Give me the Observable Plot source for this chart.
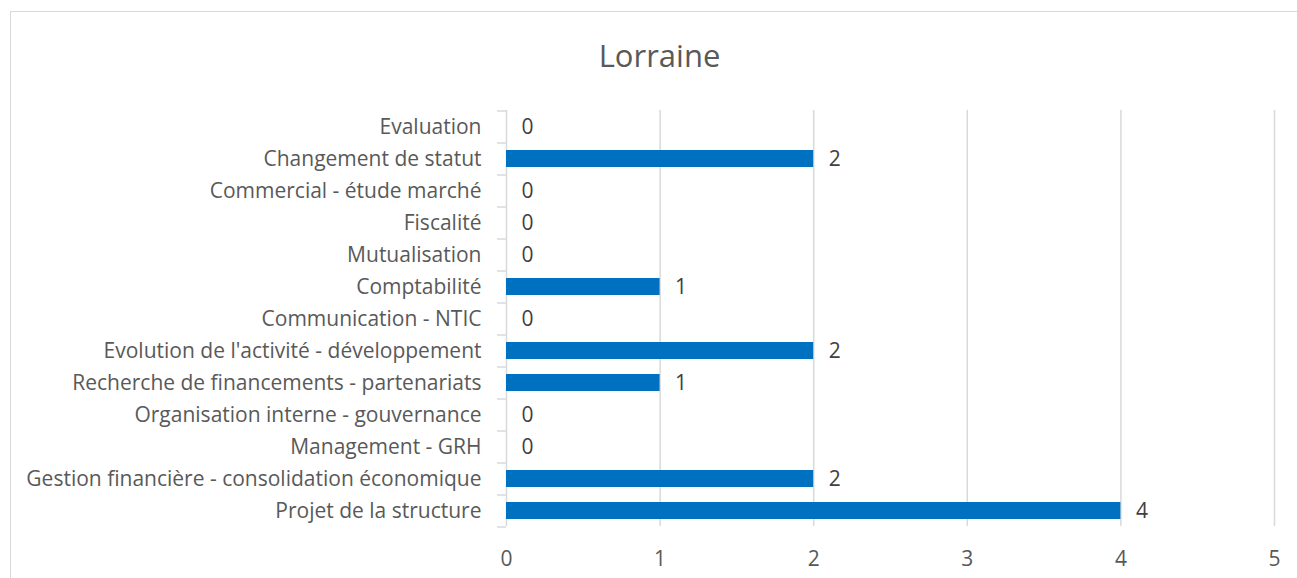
<!DOCTYPE html>
<html>
<head>
<meta charset="utf-8">
<script src="https://cdn.jsdelivr.net/npm/d3@7"></script>
<script src="https://cdn.jsdelivr.net/npm/@observablehq/plot@0.6"></script>
<style>
  html, body { margin: 0; padding: 0; background: #fff; }
  body { width: 1297px; height: 578px; overflow: hidden; position: relative; font-family: "Open Sans", sans-serif; }
  #frame { position: absolute; left: 10px; top: 11px; width: 1300px; height: 600px; border: 1px solid #d9d9d9; box-sizing: border-box; pointer-events: none; }
  #title { height: 90px; padding-left: 22px; padding-top: 20px; text-align: center; font-size: 31px; color: #595959; line-height: 70px; box-sizing: border-box; }
  svg { display: block; }
</style>
</head>
<body>
<div id="frame"></div>
<div id="title">Lorraine</div>
<div id="chart"></div>
<script>
const categories = [
  "Evaluation",
  "Changement de statut",
  "Commercial - étude marché",
  "Fiscalité",
  "Mutualisation",
  "Comptabilité",
  "Communication - NTIC",
  "Evolution de l'activité - développement",
  "Recherche de financements - partenariats",
  "Organisation interne - gouvernance",
  "Management - GRH",
  "Gestion financière - consolidation économique",
  "Projet de la structure"
];
const values = [0, 2, 0, 0, 0, 1, 0, 2, 1, 0, 0, 2, 4];
const xTicks = [0, 1, 2, 3, 4, 5];

const data = categories.map((c, i) => ({category: c, value: values[i]}));

const grey = "#d9d9d9";
const textColor = "#595959";

const chart = Plot.plot({
  width: 1297,
  height: 488,
  marginTop: 20,
  marginBottom: 52,
  marginLeft: 506,
  marginRight: 23,
  style: { fontFamily: "Open Sans, sans-serif", fontSize: "21px", color: textColor, background: "transparent" },
  x: { domain: [0, 5], ticks: xTicks, tickFormat: d => String(d), label: null },
  y: { domain: categories, label: null, paddingInner: 0.47, paddingOuter: 0.235 },
  marks: [
    Plot.gridX(xTicks.slice(1), { stroke: grey, strokeOpacity: 1, strokeWidth: 1.5 }),
    Plot.ruleX([0], { stroke: grey, strokeWidth: 1.5 }),
    Plot.axisX(xTicks, { tickSize: 0, tickPadding: 25, fontSize: 21, fill: textColor, tickFormat: d => String(d) }),
    Plot.axisY({ tickSize: 0, tickPadding: 25, fontSize: 21, fill: textColor }),
    Plot.axisY({ text: null, tickSize: 9, dy: 16, stroke: grey, strokeWidth: 1.5 }),
    Plot.axisY([categories[0]], { text: null, tickSize: 9, dy: -16, stroke: grey, strokeWidth: 1.5 }),
    Plot.barX(data, { y: "category", x: "value", fill: "#0070c0" }),
    Plot.text(data, { y: "category", x: "value", text: d => String(d.value), textAnchor: "start", dx: 15, fontSize: 21, fill: "#404040" })
  ]
});
document.getElementById("chart").appendChild(chart);
</script>
</body>
</html>
